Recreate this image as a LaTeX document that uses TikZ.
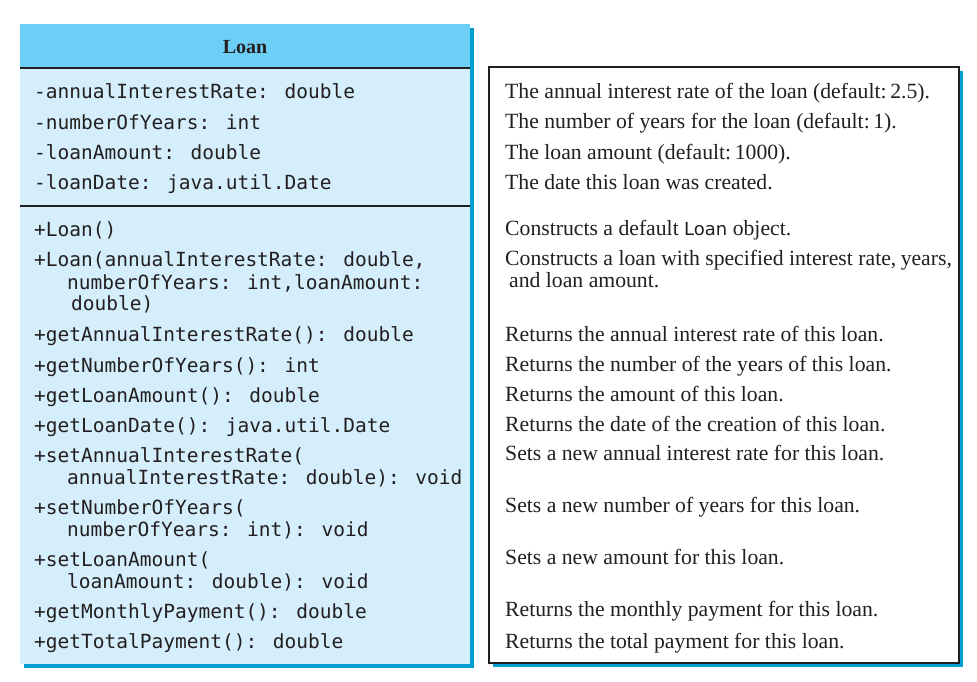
\documentclass[tikz,border=0pt]{standalone}
\usepackage{fontspec}
\setmainfont{Liberation Serif}
\newfontfamily\codefont{DejaVu Sans Mono}
\newfontfamily\clsfont{DejaVu Sans}
\definecolor{headblue}{RGB}{109,207,246}
\definecolor{bodyblue}{RGB}{213,238,251}
\definecolor{shadowblue}{RGB}{0,158,210}
\definecolor{inkline}{RGB}{35,31,32}
\tikzset{
  code/.style={anchor=base west, inner sep=0pt, yshift=-1.5pt, font=\codefont\fontsize{19.5}{22}\selectfont, text=inkline},
  desc/.style={anchor=base west, inner sep=0pt, yshift=-1pt, font=\fontsize{21.7}{24}\selectfont, text=inkline},
  title/.style={anchor=base, inner sep=0pt, font=\bfseries\fontsize{20}{24}\selectfont, text=inkline},
  rule/.style={draw=inkline, line width=1.6pt},
}
\begin{document}
\begin{tikzpicture}[x=1pt, y=-1pt]
\useasboundingbox (0,0) rectangle (977,682);

% class box: shadow, body, header
\fill[shadowblue] (24,28) rectangle (474,668);
\fill[bodyblue] (20,24) rectangle (470,664);
\fill[headblue] (20,24) rectangle (470,68);
\draw[rule] (20,68) -- (470,68);
\draw[draw=inkline, line width=1.2pt] (20,206) -- (470,206);
\node[title] (cls) at (245,54) {Loan};

% description box
\fill[shadowblue] (493,71) rectangle (963,667);
\draw[draw=inkline, fill=white, line width=1.3pt] (489,67) rectangle (959,663);

% data fields
\node[code] (f1) at (34,97)  {-annualInterestRate: double};
\node[code] (f2) at (34,128) {-numberOfYears: int};
\node[code] (f3) at (34,158) {-loanAmount: double};
\node[code] (f4) at (34,188) {-loanDate: java.util.Date};

% methods
\node[code] (m1)  at (34,235) {+Loan()};
\node[code] (m2)  at (34,265) {+Loan(annualInterestRate: double,};
\node[code] (m2b) at (67,288) {numberOfYears: int,loanAmount:};
\node[code] (m2c) at (71,309) {double)};
\node[code] (m3)  at (34,340) {+getAnnualInterestRate(): double};
\node[code] (m4)  at (34,371) {+getNumberOfYears(): int};
\node[code] (m5)  at (34,401) {+getLoanAmount(): double};
\node[code] (m6)  at (34,431) {+getLoanDate(): java.util.Date};
\node[code] (m7)  at (34,461) {+setAnnualInterestRate(};
\node[code] (m7b) at (67,483) {annualInterestRate: double): void};
\node[code] (m8)  at (34,513) {+setNumberOfYears(};
\node[code] (m8b) at (67,535) {numberOfYears: int): void};
\node[code] (m9)  at (34,565) {+setLoanAmount(};
\node[code] (m9b) at (67,587) {loanAmount: double): void};
\node[code] (m10) at (34,617) {+getMonthlyPayment(): double};
\node[code] (m11) at (34,647) {+getTotalPayment(): double};

% descriptions
\node[desc] (d1)  at (505,98)  {The annual interest rate of the loan (default:\,2.5).};
\node[desc] (d2)  at (505,128) {The number of years for the loan (default:\,1).};
\node[desc] (d3)  at (505,158) {The loan amount (default:\,1000).};
\node[desc] (d4)  at (505,188) {The date this loan was created.};
\node[desc] (d5)  at (505,234) {Constructs a default {\clsfont\fontsize{18}{20}\selectfont Loan} object.};
\node[desc] (d6)  at (505,264) {Constructs a loan with specified interest rate,\kern-1pt\ years,};
\node[desc] (d6b) at (509,286) {and loan amount.};
\node[desc] (d7)  at (505,340) {Returns the annual interest rate of this loan.};
\node[desc] (d8)  at (505,370) {Returns the number of the years of this loan.};
\node[desc] (d9)  at (505,400) {Returns the amount of this loan.};
\node[desc] (d10) at (505,430) {Returns the date of the creation of this loan.};
\node[desc] (d11) at (505,459) {Sets a new annual interest rate for this loan.};
\node[desc] (d12) at (505,511) {Sets a new number of years for this loan.};
\node[desc] (d13) at (505,563) {Sets a new amount for this loan.};
\node[desc] (d14) at (505,615) {Returns the monthly payment for this loan.};
\node[desc] (d15) at (505,647) {Returns the total payment for this loan.};
\end{tikzpicture}
\end{document}
